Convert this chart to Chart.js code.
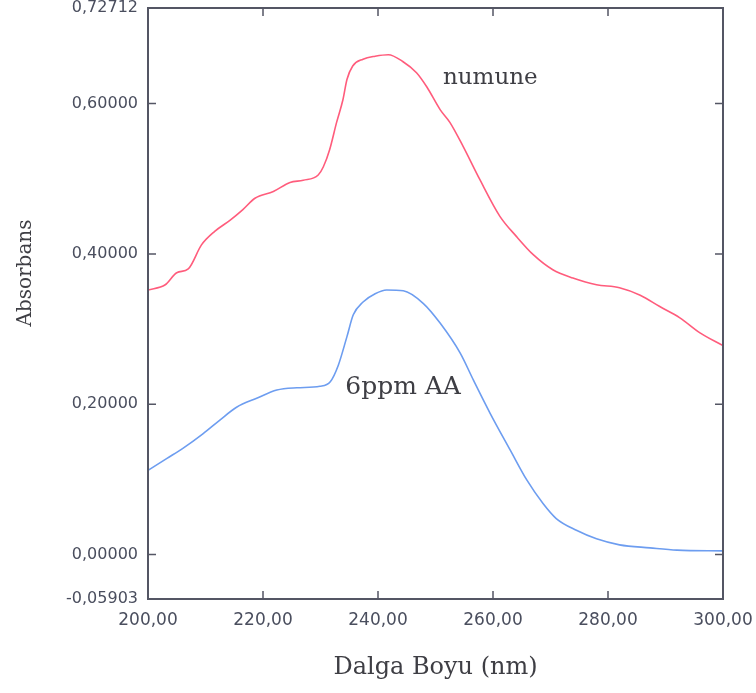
<!DOCTYPE html>
<html>
<head>
<meta charset="utf-8">
<script src="https://cdn.jsdelivr.net/npm/chart.js@4/dist/chart.umd.min.js"></script>
<style>
  html, body { margin: 0; padding: 0; background: #fff; }
  #wrap { width: 756px; height: 693px; }
</style>
</head>
<body>
<div id="wrap"><canvas id="chart" width="756" height="693"></canvas></div>
<script>
// ==========================
// DATA
// ==========================
var numuneNm  = [200.0, 203.0, 205.0, 207.0, 209.3, 211.6, 214.3, 216.5, 218.6, 221.8, 224.7, 227.0, 229.6, 230.5,
                 231.6, 232.8, 233.9, 234.6, 235.6, 237.4, 239.5, 241.8, 244.3, 246.7, 248.5, 250.8, 252.5, 254.8,
                 257.7, 261.2, 264.1, 267.0, 270.4, 273.9, 278.0, 282.0, 285.6, 289.0, 292.5, 296.0, 300.0];
var numuneAbs = [0.352, 0.359, 0.375, 0.380, 0.412, 0.430, 0.445, 0.459, 0.474, 0.483, 0.495, 0.498, 0.505, 0.516,
                 0.539, 0.575, 0.605, 0.632, 0.650, 0.659, 0.663, 0.665, 0.656, 0.641, 0.622, 0.592, 0.575, 0.543,
                 0.499, 0.450, 0.423, 0.399, 0.379, 0.368, 0.359, 0.355, 0.345, 0.330, 0.315, 0.295, 0.278];

var aaNm  = [200.0, 203.3, 206.0, 209.6, 212.5, 215.4, 218.9, 222.4, 225.9, 229.9, 231.7, 233.1, 234.6, 235.7,
             237.4, 239.5, 241.5, 244.4, 247.9, 250.8, 254.3, 256.6, 259.5, 263.0, 265.9, 268.7, 271.0, 274.6,
             278.0, 282.0, 287.3, 292.0, 300.0];
var aaAbs = [0.112, 0.128, 0.141, 0.161, 0.179, 0.196, 0.208, 0.219, 0.222, 0.224, 0.230, 0.252, 0.290, 0.319,
             0.336, 0.347, 0.352, 0.351, 0.334, 0.308, 0.268, 0.232, 0.188, 0.139, 0.099, 0.068, 0.048, 0.032,
             0.021, 0.013, 0.009, 0.006, 0.005];

var xTicks = [200, 220, 240, 260, 280, 300];
var yMin = -0.05903;
var yMax = 0.72712;
var yTicks = [yMin, 0, 0.2, 0.4, 0.6, yMax];

var seriesLabels = ['numune', '6ppm AA'];

// ==========================
// HELPERS
// ==========================
function toPoints(xs, ys) {
  return xs.map(function(x, i) { return { x: x, y: ys[i] }; });
}
function commaNum(v, d) {
  return v.toFixed(d).replace('.', ',');
}

var axisColor = '#545664';
var tickColor = '#4a4e5e';
var textColor = '#3e3e44';

// ==========================
// PLUGIN: okvir, unutrasnji tickovi, oznake
// ==========================
var framePlugin = {
  id: 'frame',
  afterDatasetsDraw: function(chart) {
    var ctx = chart.ctx;
    var a = chart.chartArea;
    var xs = chart.scales.x;
    var ys = chart.scales.y;
    var len = 8;

    ctx.save();
    ctx.strokeStyle = axisColor;
    ctx.lineWidth = 2;
    ctx.strokeRect(a.left, a.top, a.right - a.left, a.bottom - a.top);

    ctx.lineWidth = 1.5;
    ctx.beginPath();
    xTicks.slice(1, -1).forEach(function(t) {
      var px = xs.getPixelForValue(t);
      ctx.moveTo(px, a.bottom); ctx.lineTo(px, a.bottom - len);
      ctx.moveTo(px, a.top);    ctx.lineTo(px, a.top + len);
    });
    yTicks.slice(1, -1).forEach(function(t) {
      var py = ys.getPixelForValue(t);
      ctx.moveTo(a.left, py);  ctx.lineTo(a.left + len, py);
      ctx.moveTo(a.right, py); ctx.lineTo(a.right - len, py);
    });
    ctx.stroke();

    // oznake krivih
    ctx.fillStyle = textColor;
    ctx.textAlign = 'left';
    ctx.textBaseline = 'alphabetic';
    ctx.font = '23px "DejaVu Serif"';
    ctx.fillText(seriesLabels[0], xs.getPixelForValue(251.3), ys.getPixelForValue(0.626));
    ctx.font = '25px "DejaVu Serif"';
    ctx.fillText(seriesLabels[1], xs.getPixelForValue(234.3), ys.getPixelForValue(0.213));

    // naslov y ose
    ctx.font = '20px "DejaVu Serif"';
    ctx.textAlign = 'center';
    ctx.textBaseline = 'middle';
    ctx.translate(26, 273);
    ctx.rotate(-Math.PI / 2);
    ctx.fillText('Absorbans', 0, 0);
    ctx.restore();
  }
};

// ==========================
// GRAFIK
// ==========================
new Chart(document.getElementById('chart'), {
  type: 'line',
  data: {
    datasets: [{
      label: seriesLabels[0],
      data: toPoints(numuneNm, numuneAbs),
      borderColor: '#ff5c7c',
      borderWidth: 1.6,
      pointRadius: 0,
      cubicInterpolationMode: 'monotone'
    }, {
      label: seriesLabels[1],
      data: toPoints(aaNm, aaAbs),
      borderColor: '#6d9df0',
      borderWidth: 1.6,
      pointRadius: 0,
      cubicInterpolationMode: 'monotone'
    }]
  },
  options: {
    responsive: false,
    animation: false,
    layout: { padding: { left: 0, right: 33, top: 8, bottom: 0 } },
    plugins: {
      legend: { display: false },
      tooltip: { enabled: false }
    },
    scales: {
      x: {
        type: 'linear',
        min: 200,
        max: 300,
        afterBuildTicks: function(scale) {
          scale.ticks = xTicks.map(function(v) { return { value: v }; });
        },
        afterFit: function(scale) {
          scale.height = 94;
          scale.paddingLeft = 0;
          scale.paddingRight = 0;
        },
        grid: { display: false, drawTicks: false },
        border: { display: false },
        ticks: {
          padding: 11,
          color: tickColor,
          maxRotation: 0,
          font: { family: 'DejaVu Sans', size: 17 },
          callback: function(v) { return commaNum(v, 2); }
        },
        title: {
          display: true,
          text: 'Dalga Boyu (nm)',
          color: textColor,
          font: { family: 'DejaVu Serif', size: 24 },
          padding: { top: 0, bottom: 11 }
        }
      },
      y: {
        type: 'linear',
        min: yMin,
        max: yMax,
        afterBuildTicks: function(scale) {
          scale.ticks = yTicks.map(function(v) { return { value: v }; });
        },
        afterFit: function(scale) {
          scale.width = 148;
          scale.paddingTop = 0;
          scale.paddingBottom = 0;
        },
        grid: { display: false, drawTicks: false },
        border: { display: false },
        ticks: {
          padding: 10,
          color: tickColor,
          font: { family: 'DejaVu Sans', size: 16, lineHeight: 1 },
          callback: function(v) { return commaNum(v, 5); }
        }
      }
    }
  },
  plugins: [framePlugin]
});
</script>
</body>
</html>
